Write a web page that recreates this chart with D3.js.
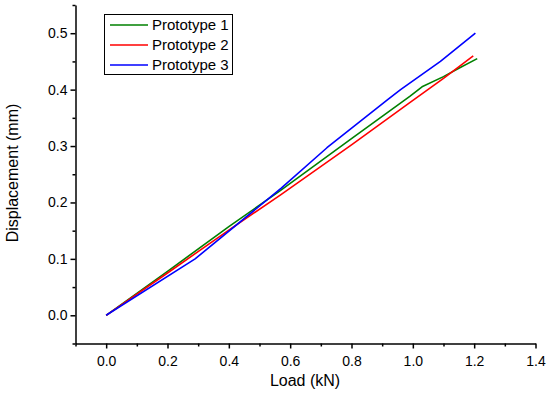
<!DOCTYPE html>
<html>
<head>
<meta charset="utf-8">
<script src="https://cdn.jsdelivr.net/npm/d3@7"></script>
<style>
  body { margin: 0; background: #fff; }
  text { font-family: "Liberation Sans", Arial, sans-serif; }
</style>
</head>
<body>
<div id="chart"></div>
<script>
// data: [load kN, displacement mm]
var proto1 = [[0, 0], [0.2, 0.078], [0.4, 0.157], [0.57, 0.222], [0.8, 0.313], [0.99, 0.388],
              [1.03, 0.405], [1.1, 0.423], [1.15, 0.438], [1.21, 0.455]];
var proto2 = [[0, 0], [0.2, 0.075], [0.4, 0.151], [0.57, 0.214], [0.8, 0.302], [0.99, 0.377],
              [1.1, 0.42], [1.197, 0.46]];
var proto3 = [[0, 0], [0.29, 0.1], [0.57, 0.225], [0.72, 0.297], [0.92, 0.383], [0.96, 0.4],
              [1.09, 0.45], [1.204, 0.5]];
var seriesNames = ["Prototype 1", "Prototype 2", "Prototype 3"];
var seriesColors = ["#008000", "#ff0000", "#0000ff"];
var xTicks = [0.0, 0.2, 0.4, 0.6, 0.8, 1.0, 1.2, 1.4];
var yTicks = [0.0, 0.1, 0.2, 0.3, 0.4, 0.5];

var width = 550, height = 399;
var svg = d3.select("#chart").append("svg")
  .attr("width", width).attr("height", height);

var x = d3.scaleLinear().domain([-0.1, 1.4]).range([75.5, 535.5]);
var y = d3.scaleLinear().domain([-0.05, 0.55]).range([343.5, 5]);

// minor ticks
var xMinor = d3.range(-0.1, 1.41, 0.1).filter(function(v) { return Math.round(v * 10) % 2 != 0; });
var yMinor = d3.range(-0.05, 0.56, 0.1);

svg.append("g")
  .attr("transform", "translate(0," + y(-0.05) + ")")
  .call(d3.axisBottom(x).tickValues(xMinor).tickSize(3).tickFormat(""))
  .call(function(g) { g.select(".domain").remove(); })
  .selectAll("line").attr("stroke-width", 1.5);
svg.append("g")
  .attr("transform", "translate(" + x(-0.1) + ",0)")
  .call(d3.axisLeft(y).tickValues(yMinor).tickSize(3).tickFormat(""))
  .call(function(g) { g.select(".domain").remove(); })
  .selectAll("line").attr("stroke-width", 1.5);

// major axes
var xAxis = svg.append("g")
  .attr("transform", "translate(0," + y(-0.05) + ")")
  .call(d3.axisBottom(x).tickValues(xTicks).tickSize(5).tickSizeOuter(0).tickFormat(d3.format(".1f")));
var yAxis = svg.append("g")
  .attr("transform", "translate(" + x(-0.1) + ",0)")
  .call(d3.axisLeft(y).tickValues(yTicks).tickSize(5).tickSizeOuter(0).tickFormat(d3.format(".1f")));

[xAxis, yAxis].forEach(function(g) {
  g.select(".domain").attr("stroke-width", 1.5);
  g.selectAll("line").attr("stroke-width", 1.5);
  g.selectAll("text").attr("font-size", 14).attr("fill", "#000")
    .style("font-family", "'Liberation Sans', Arial, sans-serif");
});
xAxis.selectAll("text").attr("dy", "1.0em");
yAxis.selectAll("text").attr("x", -8);

// axis titles
svg.append("text")
  .attr("x", 305).attr("y", 386)
  .attr("text-anchor", "middle").attr("font-size", 16)
  .text("Load (kN)");
svg.append("text")
  .attr("transform", "translate(18,173) rotate(-90)")
  .attr("text-anchor", "middle").attr("font-size", 16)
  .text("Displacement (mm)");

// lines
var line = d3.line()
  .x(function(d) { return x(d[0]); })
  .y(function(d) { return y(d[1]); });

[proto1, proto2, proto3].forEach(function(s, i) {
  svg.append("path")
    .datum(s)
    .attr("fill", "none")
    .attr("stroke", seriesColors[i])
    .attr("stroke-width", 1.6)
    .attr("stroke-linejoin", "round")
    .attr("d", line);
});

// legend
var legend = svg.append("g").attr("transform", "translate(104,14)");
legend.append("rect")
  .attr("x", 0.5).attr("y", 0.5)
  .attr("width", 128).attr("height", 60)
  .attr("fill", "#fff").attr("stroke", "#000").attr("stroke-width", 1);
seriesNames.forEach(function(name, i) {
  var ly = 11 + i * 20;
  legend.append("line")
    .attr("x1", 6).attr("x2", 44)
    .attr("y1", ly).attr("y2", ly)
    .attr("stroke", seriesColors[i]).attr("stroke-width", 1.6);
  legend.append("text")
    .attr("x", 48).attr("y", ly + 5)
    .attr("font-size", 15)
    .text(name);
});
</script>
</body>
</html>
